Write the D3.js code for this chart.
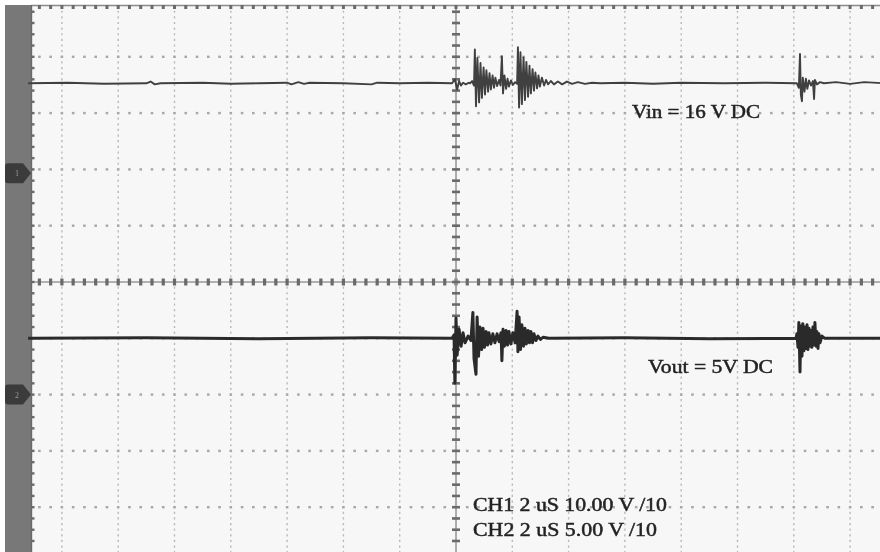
<!DOCTYPE html>
<html>
<head>
<meta charset="utf-8">
<script src="https://cdn.jsdelivr.net/npm/d3@7/dist/d3.min.js"></script>
<style>
  html, body { margin: 0; padding: 0; background: #ffffff; }
  svg { display: block; }
  text { font-family: "Liberation Serif", "Times New Roman", serif; }
</style>
</head>
<body>
<svg id="scope" width="880" height="552"></svg>
<script>
// ---- channel settings ----
const channelNames = ["CH1", "CH2"];
const timePerDiv = [2, 2];          // uS per division
const voltsPerDiv = [10, 5];        // V per division
const probeRatio = [10, 10];
const groundOffsetDiv = [1.93, -2]; // ground reference of each channel, in divisions
const dcLabels = ["Vin = 16 V DC", "Vout = 5V DC"];

// ---- CH1 samples: [time (uS), volts] ----
const ch1Trace = [
  [-15.2, 16.0], [-13.8, 16.1], [-12.5, 15.9], [-11.0, 16.0], [-10.85, 16.3], [-10.7, 15.8],
  [-10.5, 16.0], [-9.0, 16.1], [-8.0, 15.9], [-7.0, 16.0], [-6.0, 16.1], [-5.85, 15.8],
  [-5.6, 16.2], [-5.4, 15.9], [-5.2, 16.1], [-4.0, 16.0], [-3.0, 15.8], [-2.8, 16.1],
  [-2.0, 16.0], [-1.0, 16.1], [-0.14, 16.0], [-0.04, 16.7], [0.04, 14.9], [0.11, 16.4],
  [0.18, 15.6], [0.25, 16.1], [0.35, 15.8], [0.45, 16.1], [0.50, 16.0], [0.57, 16.4],
  [0.64, 15.6], [0.67, 22.0], [0.71, 11.9], [0.76, 20.5], [0.82, 12.6], [0.87, 19.6],
  [0.92, 13.4], [0.98, 18.8], [1.03, 14.0], [1.08, 18.3], [1.14, 14.5], [1.19, 17.8],
  [1.24, 14.9], [1.30, 17.4], [1.35, 15.2], [1.40, 17.0], [1.46, 15.5], [1.53, 16.6],
  [1.58, 15.6], [1.63, 20.8], [1.67, 14.2], [1.72, 17.4], [1.78, 15.0], [1.83, 16.8],
  [1.88, 15.4], [1.95, 16.5], [2.02, 15.7], [2.10, 16.2], [2.17, 15.9], [2.20, 22.4],
  [2.24, 11.7], [2.29, 21.5], [2.34, 12.3], [2.40, 20.6], [2.45, 13.0], [2.50, 19.8],
  [2.56, 13.6], [2.61, 19.1], [2.66, 14.2], [2.72, 18.5], [2.77, 14.7], [2.82, 17.9],
  [2.88, 15.1], [2.93, 17.4], [2.98, 15.4], [3.05, 17.0], [3.13, 15.6], [3.20, 16.6],
  [3.27, 15.8], [3.37, 16.4], [3.48, 15.8], [3.62, 16.3], [3.77, 15.8], [3.94, 16.3],
  [4.12, 15.9], [4.33, 16.2], [4.58, 15.9], [4.83, 16.1], [5.12, 16.0], [6.0, 16.1],
  [7.0, 15.9], [8.0, 16.1], [9.5, 16.0], [11.0, 16.1], [12.11, 16.0], [12.18, 15.2],
  [12.22, 21.2], [12.25, 14.0], [12.29, 12.8], [12.32, 17.0], [12.38, 14.5], [12.43, 16.8],
  [12.48, 15.0], [12.54, 16.5], [12.61, 15.6], [12.68, 16.4], [12.72, 13.2], [12.75, 16.6],
  [12.82, 15.8], [12.93, 16.2], [13.07, 16.0], [13.5, 16.2], [14.0, 15.9], [14.5, 16.2],
  [15.2, 16.0]
];

// ---- CH2 samples: [time (uS), volts] ----
const ch2Trace = [
  [-15.2, 5.0], [-11.0, 5.05], [-7.0, 4.95], [-3.0, 5.05], [-0.14, 5.0], [-0.07, 5.3],
  [-0.04, 1.0], [0.0, 6.8], [0.04, 3.5], [0.11, 5.8], [0.18, 4.3], [0.25, 5.5],
  [0.32, 4.6], [0.43, 5.2], [0.53, 4.8], [0.60, 7.3], [0.64, 3.2], [0.71, 1.8],
  [0.75, 6.9], [0.80, 3.4], [0.85, 6.0], [0.91, 4.0], [0.96, 5.9], [1.01, 4.2],
  [1.07, 5.6], [1.12, 4.4], [1.17, 5.5], [1.24, 4.5], [1.31, 5.4], [1.38, 4.6],
  [1.46, 5.4], [1.53, 4.7], [1.60, 5.5], [1.63, 3.0], [1.67, 5.8], [1.72, 4.3],
  [1.78, 5.7], [1.83, 4.4], [1.88, 5.6], [1.95, 4.5], [2.02, 5.5], [2.10, 4.6],
  [2.17, 7.4], [2.20, 3.8], [2.24, 6.9], [2.29, 4.0], [2.34, 6.2], [2.40, 4.3],
  [2.45, 5.9], [2.50, 4.5], [2.56, 5.7], [2.61, 4.6], [2.66, 5.6], [2.72, 4.6],
  [2.77, 5.4], [2.84, 4.8], [2.91, 5.2], [3.0, 4.9], [3.1, 5.1], [3.3, 5.0],
  [6.0, 5.05], [9.0, 4.95], [12.08, 5.0], [12.11, 5.4], [12.15, 4.2], [12.18, 6.4],
  [12.22, 2.0], [12.25, 6.1], [12.29, 3.4], [12.32, 6.3], [12.36, 3.9], [12.40, 6.0],
  [12.43, 4.1], [12.47, 6.2], [12.50, 4.0], [12.54, 5.9], [12.57, 4.3], [12.61, 5.7],
  [12.64, 4.2], [12.68, 6.0], [12.72, 4.4], [12.75, 6.4], [12.79, 4.3], [12.82, 5.6],
  [12.86, 4.1], [12.89, 5.4], [12.93, 4.6], [13.0, 5.2], [13.1, 5.0], [15.2, 5.0]
];

// ---- geometry of the graticule ----
const W = 880, H = 552;
const centerX = 456, centerY = 282, divPx = 56.3;
const plotLeft = 31, plotTop = 5, barLeft = 5;

const svg = d3.select("#scope");

// time scale (uS) and screen-division scales
const x = d3.scaleLinear()
  .domain([-8 * timePerDiv[0], 8 * timePerDiv[0]])
  .range([centerX - 8 * divPx, centerX + 8 * divPx]);
const yDiv = d3.scaleLinear().domain([-5, 5]).range([centerY + 5 * divPx, centerY - 5 * divPx]);
const xDiv = d3.scaleLinear().domain([-8, 8]).range([centerX - 8 * divPx, centerX + 8 * divPx]);

// volt scales for each channel
const yScales = [0, 1].map(i => d3.scaleLinear()
  .domain([0, voltsPerDiv[i]])
  .range([yDiv(groundOffsetDiv[i]), yDiv(groundOffsetDiv[i] + 1)]));

const defs = svg.append("defs");
defs.append("filter").attr("id", "soft").attr("x", "-5%").attr("y", "-5%").attr("width", "110%").attr("height", "110%")
  .append("feGaussianBlur").attr("stdDeviation", 0.55);
defs.append("filter").attr("id", "softText")
  .append("feGaussianBlur").attr("stdDeviation", 0.5);

// screen background and side bar
svg.append("rect").attr("x", 0).attr("y", 0).attr("width", W).attr("height", H).attr("fill", "#ffffff");
svg.append("rect").attr("x", plotLeft).attr("y", plotTop).attr("width", W - plotLeft).attr("height", H - plotTop)
  .attr("fill", "#f7f7f7");
svg.append("rect").attr("x", barLeft).attr("y", plotTop).attr("width", plotLeft - barLeft).attr("height", H - plotTop)
  .attr("fill", "#787878");

const grid = svg.append("g").attr("filter", "url(#soft)");

// minor positions (0.2 div)
const minorX = d3.range(-40, 41).map(k => k * 0.2).filter(d => xDiv(d) > plotLeft + 2 && xDiv(d) < W);
const minorY = d3.range(-25, 26).map(k => k * 0.2).filter(d => yDiv(d) > plotTop + 2 && yDiv(d) < H);

// vertical division lines (dashed)
const vDivs = d3.range(-7, 8).filter(d => d !== 0);
grid.selectAll("line.vgrid").data(vDivs).join("line")
  .attr("x1", d => xDiv(d)).attr("x2", d => xDiv(d))
  .attr("y1", plotTop).attr("y2", H)
  .attr("stroke", "#b9b9b9").attr("stroke-width", 1.4)
  .attr("stroke-dasharray", "2.2,3.43");

// horizontal division lines (dots at minor positions)
const hDivs = d3.range(-4, 5).filter(d => d !== 0);
hDivs.forEach(h => {
  grid.selectAll(null).data(minorX).join("rect")
    .attr("x", d => xDiv(d) - 1.3).attr("y", yDiv(h) - 1.2)
    .attr("width", 2.6).attr("height", 2.4)
    .attr("fill", "#a8a8a8");
});

// center horizontal axis with ticks
grid.append("line")
  .attr("x1", plotLeft).attr("x2", W).attr("y1", yDiv(0)).attr("y2", yDiv(0))
  .attr("stroke", "#9a9a9a").attr("stroke-width", 1.6);
grid.selectAll("rect.hTick").data(minorX).join("rect")
  .attr("x", d => xDiv(d) - 1.6).attr("y", yDiv(0) - 3.5)
  .attr("width", 3.2).attr("height", 7)
  .attr("fill", "#6a6a6a");

// center vertical axis with ticks
grid.append("line")
  .attr("x1", xDiv(0)).attr("x2", xDiv(0)).attr("y1", plotTop).attr("y2", H)
  .attr("stroke", "#9a9a9a").attr("stroke-width", 1.6);
grid.selectAll("rect.vTick").data(minorY).join("rect")
  .attr("x", xDiv(0) - 4).attr("y", d => yDiv(d) - 1.3)
  .attr("width", 8).attr("height", 2.6)
  .attr("fill", "#6a6a6a");

// top border with ticks
grid.append("line")
  .attr("x1", plotLeft).attr("x2", W).attr("y1", plotTop + 0.5).attr("y2", plotTop + 0.5)
  .attr("stroke", "#8a8a8a").attr("stroke-width", 1.6);
grid.selectAll("rect.topTick").data(minorX).join("rect")
  .attr("x", d => xDiv(d) - 1.5).attr("y", plotTop)
  .attr("width", 3).attr("height", 4)
  .attr("fill", "#6a6a6a");

// left border with ticks
grid.append("line")
  .attr("x1", plotLeft + 0.5).attr("x2", plotLeft + 0.5).attr("y1", plotTop).attr("y2", H)
  .attr("stroke", "#6a6a6a").attr("stroke-width", 1.4);
grid.selectAll("rect.leftTick").data(minorY).join("rect")
  .attr("x", plotLeft).attr("y", d => yDiv(d) - 1.2)
  .attr("width", 3.5).attr("height", 2.4)
  .attr("fill", "#6a6a6a");

// channel ground markers
const markers = svg.append("g").attr("filter", "url(#soft)");
[0, 1].forEach(i => {
  const my = yScales[i](0);
  const p = d3.path();
  p.moveTo(barLeft + 3, my - 10);
  p.lineTo(plotLeft - 8, my - 10);
  p.lineTo(plotLeft, my);
  p.lineTo(plotLeft - 8, my + 10);
  p.lineTo(barLeft + 3, my + 10);
  p.quadraticCurveTo(barLeft, my + 10, barLeft, my + 7);
  p.lineTo(barLeft, my - 7);
  p.quadraticCurveTo(barLeft, my - 10, barLeft + 3, my - 10);
  p.closePath();
  markers.append("path").attr("d", p.toString()).attr("fill", "#3a3a3a");
  markers.append("text")
    .attr("x", (barLeft + plotLeft) / 2 - 1).attr("y", my + 3)
    .attr("text-anchor", "middle").attr("font-size", 8).attr("fill", "#9a9a9a")
    .text(String(i + 1));
});

// traces
const traces = svg.append("g").attr("filter", "url(#soft)");
const traceStyle = [
  { color: "#404040", width: 1.9 },
  { color: "#2c2c2c", width: 3 }
];
[ch1Trace, ch2Trace].forEach((data, i) => {
  const line = d3.line().x(d => x(d[0])).y(d => yScales[i](d[1]));
  traces.append("path")
    .datum(data)
    .attr("d", line)
    .attr("fill", "none")
    .attr("stroke", traceStyle[i].color)
    .attr("stroke-width", traceStyle[i].width)
    .attr("stroke-linejoin", "round");
});

// annotations
const notes = svg.append("g").attr("filter", "url(#softText)")
  .attr("fill", "#222222").attr("stroke", "#222222").attr("stroke-width", 0.45);
notes.append("text").attr("x", 632).attr("y", 118).attr("font-size", 18)
  .attr("textLength", 128).attr("lengthAdjust", "spacingAndGlyphs").text(dcLabels[0]);
notes.append("text").attr("x", 648).attr("y", 373).attr("font-size", 18)
  .attr("textLength", 125).attr("lengthAdjust", "spacingAndGlyphs").text(dcLabels[1]);

const settingText = channelNames.map((c, i) =>
  `${c} ${timePerDiv[i]} uS ${voltsPerDiv[i].toFixed(2)} V /${probeRatio[i]}`);
const settingWidth = [194, 184];
const settingY = [511, 536];
settingText.forEach((t, i) => {
  notes.append("text").attr("x", 473).attr("y", settingY[i]).attr("font-size", 18)
    .attr("textLength", settingWidth[i]).attr("lengthAdjust", "spacingAndGlyphs").text(t);
});
</script>
</body>
</html>
